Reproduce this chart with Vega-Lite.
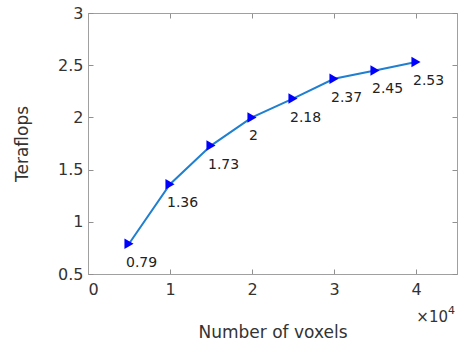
{
  "$schema": "https://vega.github.io/schema/vega-lite/v6.json",
  "width": 369,
  "height": 261,
  "autosize": "none",
  "padding": {"left": 88, "top": 13, "right": 3, "bottom": 69},
  "background": "white",
  "config": {
    "view": {"stroke": "#a0a0a0", "strokeWidth": 1},
    "font": "DejaVu Sans",
    "axis": {
      "grid": false,
      "domainColor": "#a0a0a0",
      "tickColor": "#909090",
      "labelColor": "#333333",
      "titleColor": "#333333",
      "labelFont": "DejaVu Sans",
      "titleFont": "DejaVu Sans",
      "labelFontSize": 16,
      "titleFontSize": 17,
      "titleFontWeight": "normal",
      "tickSize": -5
    }
  },
  "data": {
    "values": [
      {"voxels": 5000, "tflops": 0.79, "label": "0.79"},
      {"voxels": 10000, "tflops": 1.36, "label": "1.36"},
      {"voxels": 15000, "tflops": 1.73, "label": "1.73"},
      {"voxels": 20000, "tflops": 2.0, "label": "2"},
      {"voxels": 25000, "tflops": 2.18, "label": "2.18"},
      {"voxels": 30000, "tflops": 2.37, "label": "2.37"},
      {"voxels": 35000, "tflops": 2.45, "label": "2.45"},
      {"voxels": 40000, "tflops": 2.53, "label": "2.53"}
    ]
  },
  "layer": [
    {
      "encoding": {
        "x": {
          "field": "voxels",
          "type": "quantitative",
          "scale": {"domain": [0, 45000], "nice": false},
          "axis": {
            "orient": "bottom",
            "title": "Number of voxels",
            "values": [0, 10000, 20000, 30000, 40000],
            "labelExpr": "datum.value / 10000",
            "labelPadding": 12,
            "titlePadding": 27
          }
        },
        "y": {
          "field": "tflops",
          "type": "quantitative",
          "scale": {"domain": [0.5, 3], "nice": false, "zero": false},
          "axis": {
            "orient": "left",
            "title": "Teraflops",
            "values": [0.5, 1, 1.5, 2, 2.5, 3],
            "format": "~g",
            "labelPadding": 10,
            "titlePadding": 26
          }
        }
      },
      "layer": [
        {
          "mark": {"type": "line", "color": "#1f7fd0", "strokeWidth": 2}
        },
        {
          "mark": {"type": "point", "shape": "triangle-right", "filled": true, "color": "#0000ff", "size": 110, "opacity": 1}
        },
        {
          "mark": {"type": "text", "align": "left", "baseline": "middle", "dx": -3, "dy": 19, "fontSize": 14, "color": "#222222", "font": "DejaVu Sans"},
          "encoding": {"text": {"field": "label"}}
        },
        {
          "transform": [{"filter": "datum.voxels == 40000"}],
          "mark": {"type": "text", "align": "right", "baseline": "alphabetic", "dx": -9, "dy": 48, "fontSize": 15, "color": "#333333", "font": "DejaVu Sans"},
          "encoding": {
            "x": {"datum": 45000, "type": "quantitative"},
            "y": {"datum": 0.5, "type": "quantitative"},
            "text": {"value": "×10"}
          }
        },
        {
          "transform": [{"filter": "datum.voxels == 40000"}],
          "mark": {"type": "text", "align": "left", "baseline": "alphabetic", "dx": -9, "dy": 40, "fontSize": 11, "color": "#333333", "font": "DejaVu Sans"},
          "encoding": {
            "x": {"datum": 45000, "type": "quantitative"},
            "y": {"datum": 0.5, "type": "quantitative"},
            "text": {"value": "4"}
          }
        }
      ]
    },
    {
      "mark": {"type": "point", "opacity": 0},
      "encoding": {
        "x": {"field": "voxels", "type": "quantitative", "scale": {"domain": [0, 45000], "nice": false},
          "axis": {"orient": "top", "title": null, "labels": false, "domain": true, "ticks": true, "values": [0, 10000, 20000, 30000, 40000]}},
        "y": {"field": "tflops", "type": "quantitative", "scale": {"domain": [0.5, 3], "nice": false, "zero": false},
          "axis": {"orient": "right", "title": null, "labels": false, "domain": true, "ticks": true, "values": [0.5, 1, 1.5, 2, 2.5, 3]}}
      }
    }
  ],
  "resolve": {"axis": {"x": "independent", "y": "independent"}}
}
